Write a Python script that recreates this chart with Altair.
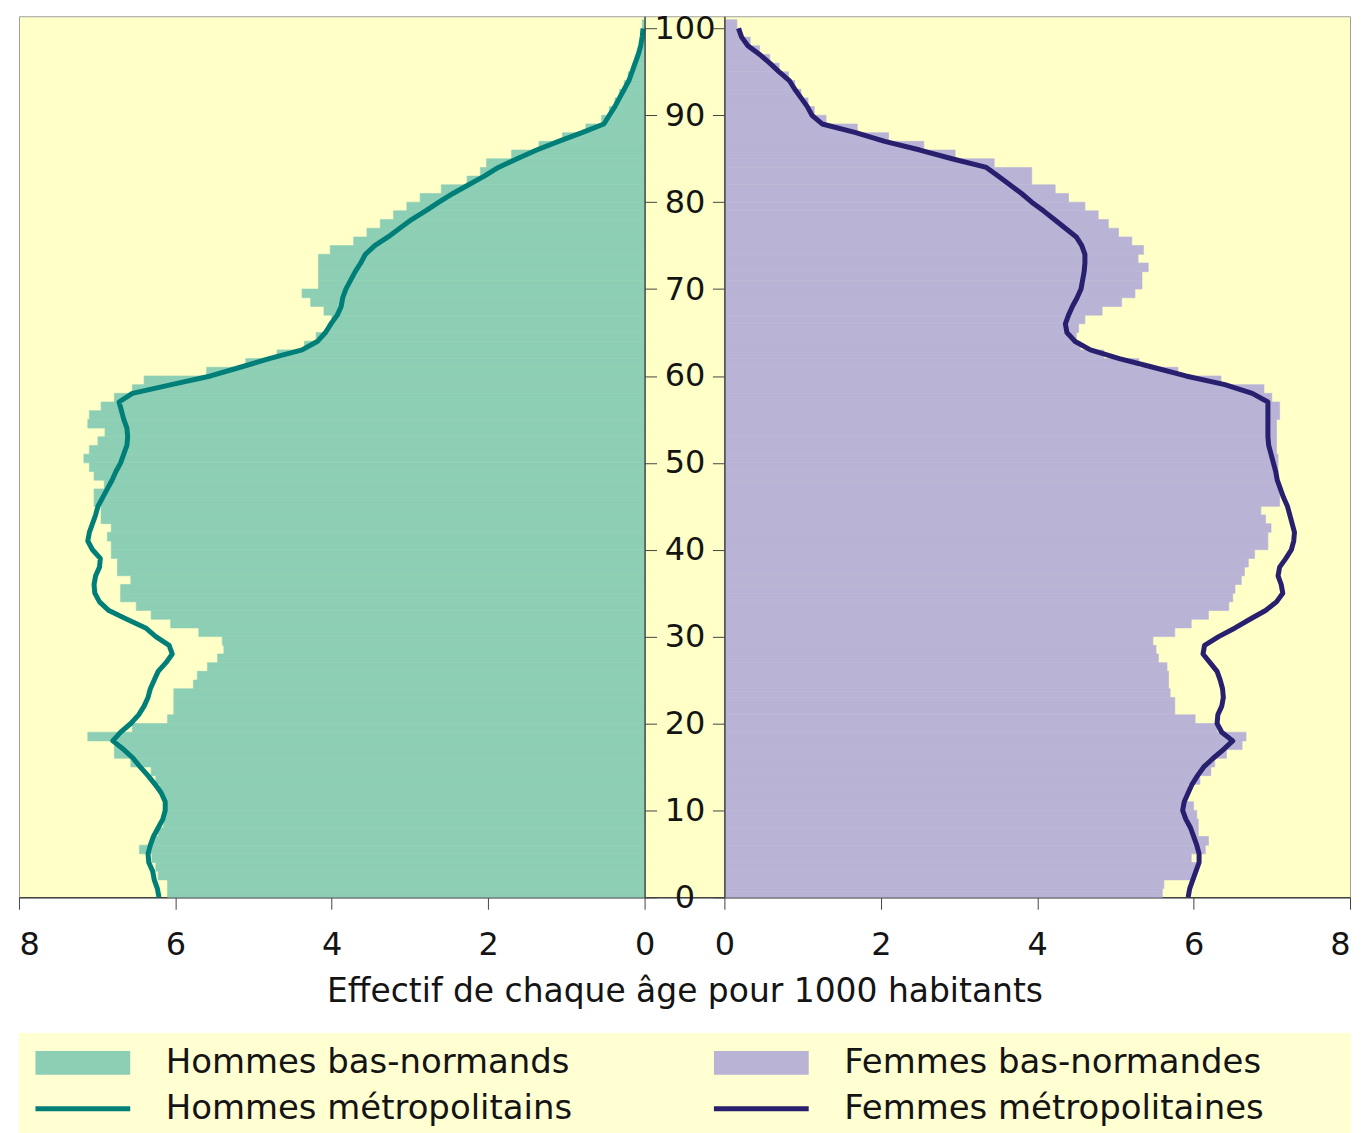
import altair as alt
import pandas as pd

# ---------------- data ----------------
ages = list(range(101))

hommes_bn = [6.10, 6.10, 6.22, 6.25, 6.30, 6.46, 6.30, 6.22, 6.15, 6.12,
             6.12, 6.14, 6.20, 6.25, 6.31, 6.57, 6.78, 6.78, 7.12, 6.55,
             6.10, 6.02, 6.02, 6.02, 5.77, 5.72, 5.59, 5.46, 5.38, 5.40,
             5.70, 6.06, 6.31, 6.50, 6.70, 6.70, 6.57, 6.74, 6.74, 6.82,
             6.82, 6.87, 6.82, 6.95, 6.95, 7.04, 7.04, 6.91, 7.04, 7.10,
             7.17, 7.10, 6.99, 6.90, 7.12, 7.10, 6.95, 6.78, 6.55, 6.40,
             5.60, 5.10, 4.70, 4.35, 4.20, 4.05, 4.00, 4.10, 4.27, 4.38,
             4.17, 4.17, 4.17, 4.17, 4.02, 3.72, 3.55, 3.38, 3.21, 3.04,
             2.87, 2.60, 2.27, 2.10, 2.02, 1.70, 1.35, 1.05, 0.75, 0.55,
             0.45, 0.38, 0.32, 0.26, 0.21, 0.16, 0.12, 0.08, 0.06, 0.04,
             0.03]

hommes_metro = [6.21, 6.23, 6.27, 6.29, 6.34, 6.35, 6.32, 6.28, 6.22, 6.16,
                6.13, 6.13, 6.18, 6.26, 6.35, 6.45, 6.54, 6.66, 6.80, 6.70,
                6.57, 6.47, 6.40, 6.35, 6.32, 6.27, 6.22, 6.12, 6.04, 6.08,
                6.25, 6.38, 6.62, 6.85, 6.97, 7.03, 7.04, 7.02, 6.97, 6.96,
                7.06, 7.12, 7.10, 7.06, 7.02, 6.99, 6.93, 6.87, 6.81, 6.76,
                6.70, 6.66, 6.62, 6.61, 6.62, 6.66, 6.69, 6.72, 6.55, 6.05,
                5.55, 5.17, 4.80, 4.38, 4.18, 4.08, 4.01, 3.93, 3.88, 3.86,
                3.82, 3.76, 3.70, 3.63, 3.57, 3.45, 3.28, 3.13, 2.98, 2.80,
                2.63, 2.45, 2.25, 2.05, 1.87, 1.63, 1.38, 1.10, 0.80, 0.52,
                0.45, 0.38, 0.32, 0.26, 0.20, 0.16, 0.12, 0.08, 0.05, 0.03,
                0.02]

femmes_bn = [5.60, 5.62, 6.02, 6.06, 5.97, 6.15, 6.19, 6.06, 6.06, 6.04,
             6.00, 5.91, 5.93, 6.08, 6.22, 6.27, 6.42, 6.62, 6.67, 6.30,
             6.02, 5.76, 5.76, 5.70, 5.68, 5.68, 5.66, 5.55, 5.52, 5.48,
             5.76, 5.97, 6.19, 6.45, 6.50, 6.53, 6.61, 6.65, 6.70, 6.78,
             6.95, 6.95, 6.99, 6.92, 6.86, 7.10, 7.10, 7.08, 7.08, 7.08,
             7.08, 7.06, 7.06, 7.06, 7.06, 7.10, 7.10, 7.00, 6.90, 6.35,
             5.80, 5.30, 4.85, 4.55, 4.50, 4.53, 4.61, 4.83, 5.08, 5.25,
             5.34, 5.34, 5.42, 5.29, 5.36, 5.21, 5.04, 4.91, 4.78, 4.61,
             4.40, 4.23, 3.93, 3.93, 3.45, 2.95, 2.55, 2.10, 1.70, 1.30,
             1.15, 1.07, 0.98, 0.90, 0.82, 0.70, 0.58, 0.45, 0.33, 0.22,
             0.16]

femmes_metro = [5.93, 5.95, 5.99, 6.03, 6.07, 6.07, 6.04, 6.00, 5.96, 5.90,
                5.86, 5.88, 5.93, 5.98, 6.05, 6.13, 6.25, 6.38, 6.50, 6.36,
                6.30, 6.31, 6.36, 6.38, 6.37, 6.34, 6.30, 6.21, 6.12, 6.14,
                6.32, 6.53, 6.72, 6.92, 7.06, 7.14, 7.12, 7.08, 7.10, 7.18,
                7.25, 7.28, 7.29, 7.26, 7.23, 7.20, 7.15, 7.11, 7.07, 7.05,
                7.02, 6.99, 6.96, 6.95, 6.95, 6.95, 6.95, 6.95, 6.75, 6.40,
                5.90, 5.48, 5.05, 4.68, 4.48, 4.38, 4.36, 4.40, 4.45, 4.51,
                4.56, 4.58, 4.60, 4.61, 4.61, 4.57, 4.50, 4.36, 4.22, 4.08,
                3.93, 3.80, 3.65, 3.50, 3.35, 2.91, 2.50, 2.05, 1.68, 1.25,
                1.12, 1.06, 0.98, 0.90, 0.83, 0.70, 0.58, 0.45, 0.30, 0.22,
                0.18]

x_tick_values = [0, 2, 4, 6, 8]
age_ticks = [0, 10, 20, 30, 40, 50, 60, 70, 80, 90, 100]

legend_labels = ["Hommes bas-normands", "Hommes métropolitains",
                 "Femmes bas-normandes", "Femmes métropolitaines"]
legend_kind = ["bar", "line", "bar", "line"]
legend_col = [0, 0, 1, 1]
legend_row = [0, 1, 0, 1]

# ---------------- styles ----------------
C_BG = "#FFFFC8"
C_LEG_BG = "#FFFFD2"
C_MEN_BAR = "#8DCFB5"
C_WOM_BAR = "#B9B3D6"
C_MEN_LINE = "#007F79"
C_WOM_LINE = "#28206E"
C_TEXT = "#141414"
C_AXIS = "#444444"
FONT = "DejaVu Sans"

XMAX = 8.0
GAP = 1.021                 # gap between the two half-pyramids, in value units
R0 = XMAX + GAP             # position of the right-hand zero
DOM = R0 + XMAX
W, H = 1334, 883
MID_OFFSET = -(W - int(round(W * XMAX / DOM)))

legend_colors = [C_MEN_BAR, C_MEN_LINE, C_WOM_BAR, C_WOM_LINE]

df = pd.DataFrame({
    "age": ages,
    "hbn": hommes_bn,
    "hm": hommes_metro,
    "fbn": femmes_bn,
    "fm": femmes_metro,
})

base = alt.Chart(df).transform_calculate(
    age1="datum.age + 1",
    zl=str(XMAX),
    zr=str(R0),
    hbn_u=f"{XMAX} - datum.hbn",
    hm_u=f"{XMAX} - datum.hm",
    fbn_u=f"{R0} + datum.fbn",
    fm_u=f"{R0} + datum.fm",
)

xscale = alt.Scale(domain=[0, DOM], nice=False, zero=False)
yscale = alt.Scale(domain=[0, 101.4], nice=False, zero=False)

XTITLE = "Effectif de chaque âge pour 1000 habitants"
xvals = [XMAX - v for v in reversed(x_tick_values)] + [R0 + v for v in x_tick_values]
xaxis = alt.Axis(
    values=xvals,
    labelExpr=f"datum.value < {XMAX + GAP / 2} ? round({XMAX} - datum.value) : round(datum.value - {R0})",
    tickSize=12, tickColor=C_AXIS, domainColor=C_AXIS, domainWidth=1.5,
    labelFont=FONT, labelFontSize=32, labelColor=C_TEXT, labelPadding=20,
    labelFlush=True,
    titleFont=FONT, titleFontSize=33, titleFontWeight="normal", titleColor=C_TEXT,
    titlePadding=15, grid=False,
)

yaxis_mid = alt.Axis(
    orient="right", offset=MID_OFFSET, values=age_ticks, tickSize=12,
    tickColor=C_AXIS, domainColor=C_AXIS, domainWidth=1.5,
    labelAlign="center", labelBaseline="middle", labelPadding=28,
    labelFont=FONT, labelFontSize=32, labelColor=C_TEXT,
    title=None, grid=False, zindex=1,
)
yaxis_mid2 = alt.Axis(
    orient="left", offset=MID_OFFSET, values=age_ticks, tickSize=12,
    tickColor=C_AXIS, domainColor=C_AXIS, domainWidth=1.5,
    labels=False, title=None, grid=False, zindex=1,
)

men_bars = base.mark_bar(color=C_MEN_BAR, stroke=C_MEN_BAR, strokeWidth=0.6).encode(
    x=alt.X("hbn_u:Q", scale=xscale, axis=xaxis, title=XTITLE),
    x2="zl:Q",
    y=alt.Y("age:Q", scale=yscale, axis=yaxis_mid),
    y2="age1:Q",
)
wom_bars = base.mark_bar(color=C_WOM_BAR, stroke=C_WOM_BAR, strokeWidth=0.6).encode(
    x=alt.X("zr:Q", scale=xscale, axis=xaxis, title=XTITLE),
    x2="fbn_u:Q",
    y=alt.Y("age:Q", scale=yscale, axis=yaxis_mid2),
    y2="age1:Q",
)
men_line = base.mark_line(color=C_MEN_LINE, strokeWidth=5, strokeJoin="round").encode(
    x=alt.X("hm_u:Q", scale=xscale, axis=xaxis, title=XTITLE),
    y=alt.Y("age:Q", scale=yscale, axis=None),
    order="age:Q",
)
wom_line = base.mark_line(color=C_WOM_LINE, strokeWidth=5, strokeJoin="round").encode(
    x=alt.X("fm_u:Q", scale=xscale, axis=xaxis, title=XTITLE),
    y=alt.Y("age:Q", scale=yscale, axis=None),
    order="age:Q",
)

main = alt.layer(men_bars, wom_bars, men_line, wom_line).properties(
    width=W, height=H,
    view=alt.ViewBackground(fill=C_BG, stroke="#a0a0a0", strokeWidth=1),
).resolve_axis(y="independent")

# ---------------- legend ----------------
LW, LH = 1335, 103
leg = pd.DataFrame({
    "label": legend_labels, "kind": legend_kind, "col": legend_col,
    "row": legend_row, "color": legend_colors,
})
COL_STEP = 680.0
SW_X = 64.0
ROW_STEP = 46.0
ROW_Y = 30.0
lx = alt.Scale(domain=[-SW_X / COL_STEP, (LW - SW_X) / COL_STEP], nice=False, zero=False)
ly = alt.Scale(domain=[-ROW_Y / ROW_STEP, (LH - ROW_Y) / ROW_STEP], nice=False, zero=False, reverse=True)

lbase = alt.Chart(leg)
bar_sw = lbase.transform_filter("datum.kind == 'bar'").mark_point(
    shape="M-1,-0.25H1V0.25H-1Z", size=9025, filled=True, opacity=1, strokeWidth=0,
).encode(
    x=alt.X("col:Q", scale=lx, axis=None),
    y=alt.Y("row:Q", scale=ly, axis=None),
    color=alt.Color("color:N", scale=None),
)
line_sw = lbase.transform_filter("datum.kind == 'line'").mark_point(
    shape="M-1,-0.052H1V0.052H-1Z", size=9025, filled=True, opacity=1, strokeWidth=0,
).encode(
    x=alt.X("col:Q", scale=lx, axis=None),
    y=alt.Y("row:Q", scale=ly, axis=None),
    color=alt.Color("color:N", scale=None),
)
texts = lbase.mark_text(
    align="left", baseline="middle", dx=83, font=FONT, fontSize=34, color=C_TEXT,
).encode(
    x=alt.X("col:Q", scale=lx, axis=None),
    y=alt.Y("row:Q", scale=ly, axis=None),
    text="label:N",
)
legend_chart = alt.layer(bar_sw, line_sw, texts).properties(
    width=LW, height=LH,
    view=alt.ViewBackground(fill=C_LEG_BG, stroke="transparent", strokeWidth=0),
)

chart = alt.vconcat(main, legend_chart, spacing=24).properties(
    padding={"left": 10, "top": 2, "right": 5, "bottom": 0},
    background="white",
)

chart.save("out.html", embed_options={"renderer": "svg", "actions": False})
